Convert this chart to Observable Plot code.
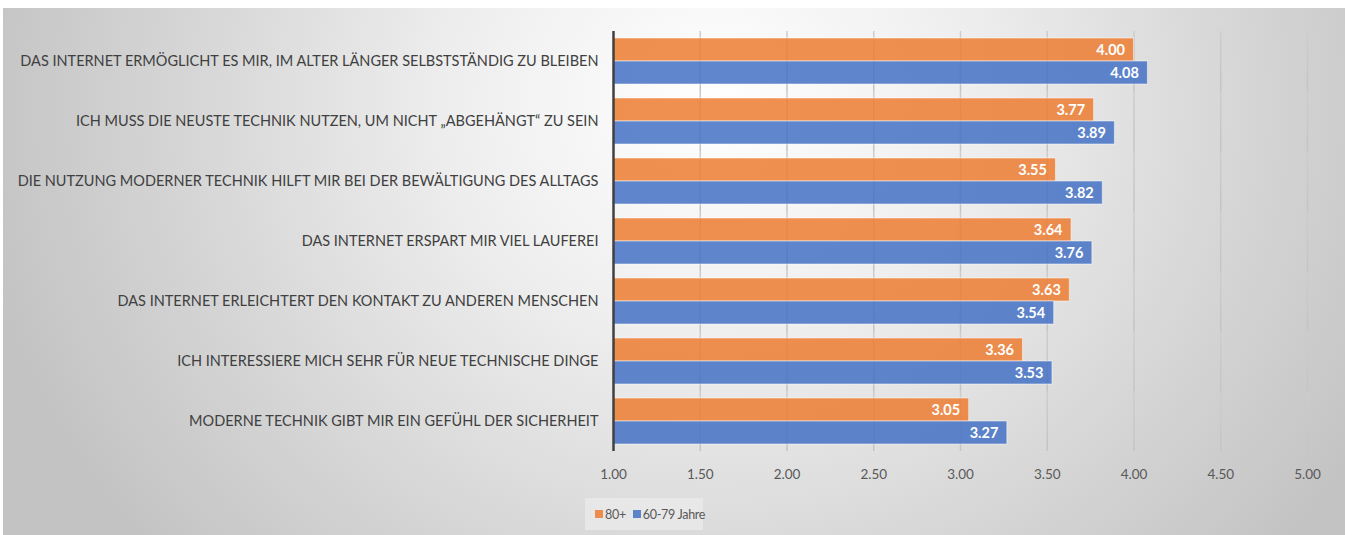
<!DOCTYPE html>
<html>
<head>
<meta charset="utf-8">
<script src="https://cdn.jsdelivr.net/npm/d3@7"></script>
<script src="https://cdn.jsdelivr.net/npm/@observablehq/plot@0.6"></script>
<style>
  html, body { margin: 0; padding: 0; background: #ffffff; }
  #page { position: relative; width: 1345px; height: 535px; overflow: hidden; font-family: Lato, "Open Sans", sans-serif; }
  #bg { position: absolute; left: 3px; top: 8px; width: 1342px; height: 527px;
        background: radial-gradient(ellipse 56% 130% at 53% 18%, #ffffff 0%, #eeeeee 35%, #d6d6d6 70%, #c3c3c3 100%); }
  #chart { position: absolute; left: 0; top: 0; }
  #chart g[aria-label="fy-axis tick label"] { fill: #404040; }
  #chart g[aria-label="x-axis tick label"] { fill: #595959; }
  #legend { position: absolute; left: 585px; top: 498px; width: 118px; height: 32px; white-space: nowrap;
            background: rgba(235,235,235,0.75); display: flex; align-items: center; gap: 7px;
            padding: 0 0 0 10px; box-sizing: border-box; font-size: 12.5px; letter-spacing: -0.3px; color: #595959; }
  #legend .item { display: flex; align-items: center; gap: 2px; }
  #legend .sw { width: 8px; height: 8px; display: inline-block; }
</style>
</head>
<body>
<div id="page">
  <div id="bg"></div>
  <div id="chart"></div>
  <div id="legend"></div>
</div>
<script>
const categories = [
  "DAS INTERNET ERMÖGLICHT ES MIR, IM ALTER LÄNGER SELBSTSTÄNDIG ZU BLEIBEN",
  "ICH MUSS DIE NEUSTE TECHNIK NUTZEN, UM NICHT „ABGEHÄNGT“ ZU SEIN",
  "DIE NUTZUNG MODERNER TECHNIK HILFT MIR BEI DER BEWÄLTIGUNG DES ALLTAGS",
  "DAS INTERNET ERSPART MIR VIEL LAUFEREI",
  "DAS INTERNET ERLEICHTERT DEN KONTAKT ZU ANDEREN MENSCHEN",
  "ICH INTERESSIERE MICH SEHR FÜR NEUE TECHNISCHE DINGE",
  "MODERNE TECHNIK GIBT MIR EIN GEFÜHL DER SICHERHEIT"
];
const seriesNames = ["80+", "60-79 Jahre"];
const values80 = [4.00, 3.77, 3.55, 3.64, 3.63, 3.36, 3.05];
const values6079 = [4.08, 3.89, 3.82, 3.76, 3.54, 3.53, 3.27];
const xTicks = [1.00, 1.50, 2.00, 2.50, 3.00, 3.50, 4.00, 4.50, 5.00];
const seriesColors = ["#ED7D31", "#4472C4"];

const rows = categories.flatMap((c, i) => [
  {cat: c, series: seriesNames[0], value: values80[i]},
  {cat: c, series: seriesNames[1], value: values6079[i]}
]);

const MT = 28, MB = 44, H = 497;

// gradient definition for gridlines (light at top, darker at bottom)
const gridDefs = () => {
  const ns = "http://www.w3.org/2000/svg";
  const defs = document.createElementNS(ns, "defs");
  const lg = document.createElementNS(ns, "linearGradient");
  lg.setAttribute("id", "gridGrad");
  lg.setAttribute("gradientUnits", "userSpaceOnUse");
  lg.setAttribute("x1", 0); lg.setAttribute("x2", 0);
  lg.setAttribute("y1", MT); lg.setAttribute("y2", H - MB);
  [["0%", "#cdcdcd"], ["100%", "#8a8a8a"]].forEach(([o, c]) => {
    const s = document.createElementNS(ns, "stop");
    s.setAttribute("offset", o); s.setAttribute("stop-color", c);
    lg.appendChild(s);
  });
  defs.appendChild(lg);
  return defs;
};

const chart = Plot.plot({
  width: 1345,
  height: H,
  marginLeft: 613,
  marginRight: 38,
  marginTop: MT,
  marginBottom: MB,
  style: {background: "transparent", fontFamily: "Lato, 'Open Sans', sans-serif", fontSize: "14.5px", overflow: "visible"},
  x: {domain: [1, 5], ticks: xTicks, tickFormat: d => d.toFixed(2), tickSize: 0, tickPadding: 18, label: null},
  fy: {domain: categories, padding: 0, tickSize: 0, tickPadding: 15, label: null, axis: "left"},
  y: {domain: seriesNames, axis: null, paddingInner: 0, paddingOuter: 0.3},
  color: {domain: seriesNames, range: seriesColors},
  marks: [
    gridDefs,
    Plot.ruleX(xTicks.slice(1), {stroke: "url(#gridGrad)", strokeWidth: 1.5}),
    Plot.barX(rows, {fy: "cat", y: "series", x1: 1, x2: "value", fill: "series", fillOpacity: 0.85,
                     stroke: "#ffffff", strokeOpacity: 0.5, strokeWidth: 1}),
    Plot.text(rows, {fy: "cat", y: "series", x: "value", text: d => d.value.toFixed(2), textAnchor: "end",
                     dx: -9, fill: "white", fontWeight: "bold", fontSize: 14.5}),
    Plot.ruleX([1], {stroke: "#404040", strokeWidth: 2.5})
  ]
});
chart.querySelectorAll('g[aria-label="x-axis tick label"]').forEach(g => g.setAttribute("font-size", "13.5"));
document.getElementById("chart").appendChild(chart);

const legend = document.getElementById("legend");
seriesNames.forEach((s, i) => {
  const item = document.createElement("div");
  item.className = "item";
  const sw = document.createElement("span");
  sw.className = "sw";
  sw.style.background = seriesColors[i];
  sw.style.opacity = 0.85;
  const t = document.createElement("span");
  t.textContent = s;
  item.appendChild(sw);
  item.appendChild(t);
  legend.appendChild(item);
});
</script>
</body>
</html>
